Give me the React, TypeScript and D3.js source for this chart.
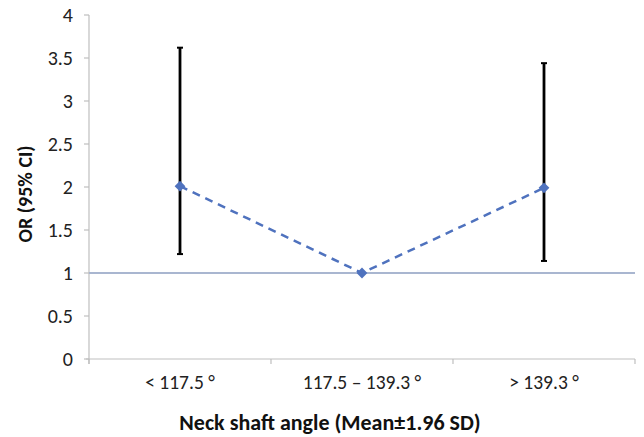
import React from "react";
import * as d3 from "d3";

const width = 644;
const height = 437;
const margin = { top: 15, right: 9, bottom: 78, left: 89 };

const categories = ["< 117.5 °", "117.5 – 139.3 °", "> 139.3 °"];
const orValues = [2.01, 1.0, 1.99];
const ciLow = [1.22, 1.0, 1.14];
const ciHigh = [3.62, 1.0, 3.44];
const yTicks = [0, 0.5, 1, 1.5, 2, 2.5, 3, 3.5, 4];
const refValue = 1;

const font = "Carlito, 'Open Sans', 'Liberation Sans', sans-serif";

const App = () => {
  const innerW = width - margin.left - margin.right;
  const innerH = height - margin.top - margin.bottom;

  const x = d3.scaleBand().domain(categories).range([0, innerW]);
  const y = d3.scaleLinear().domain([0, 4]).range([innerH, 0]);
  const cx = (c: string) => (x(c) ?? 0) + x.bandwidth() / 2;

  const points = categories.map((c, i) => ({
    c,
    v: orValues[i],
    lo: ciLow[i],
    hi: ciHigh[i],
  }));

  const line = d3
    .line<{ c: string; v: number }>()
    .x((d) => cx(d.c))
    .y((d) => y(d.v));

  // square turned 45deg, like the Excel diamond marker
  const diamond = d3.symbol().type(d3.symbolSquare).size(58)();

  // boundaries of the category bands for the x tick marks
  const bounds = [...categories.map((c) => x(c) ?? 0), innerW];

  return (
    <svg
      width={width}
      height={height}
      style={{ position: "absolute", left: 0, top: 0, background: "#fff" }}
    >
      <g transform={`translate(${margin.left},${margin.top})`}>
        {/* y axis */}
        <line x1={0} x2={0} y1={0} y2={innerH + 5} stroke="#BFBFBF" strokeWidth={1.2} />
        {yTicks.map((t) => (
          <g key={t} transform={`translate(0,${y(t)})`}>
            <line x1={-5} x2={0} stroke="#BFBFBF" strokeWidth={1.2} />
            <text
              x={-16}
              dy="0.35em"
              textAnchor="end"
              fontFamily={font}
              fontSize={20}
              fill="#222"
            >
              {t}
            </text>
          </g>
        ))}

        {/* x axis */}
        <line x1={-3} x2={innerW} y1={innerH} y2={innerH} stroke="#BFBFBF" strokeWidth={1.2} />
        {bounds.map((b, i) => (
          <line key={i} x1={b} x2={b} y1={innerH} y2={innerH + 5} stroke="#BFBFBF" strokeWidth={1.2} />
        ))}
        {categories.map((c) => (
          <text
            key={c}
            x={cx(c)}
            y={innerH + 30}
            textAnchor="middle"
            fontFamily={font}
            fontSize={19.5}
            fill="#222"
          >
            {c}
          </text>
        ))}

        {/* reference line at OR = 1 */}
        <line
          x1={0}
          x2={innerW}
          y1={y(refValue)}
          y2={y(refValue)}
          stroke="#A9B6D0"
          strokeWidth={1.8}
        />

        {/* error bars */}
        {points
          .filter((p) => p.hi > p.lo)
          .map((p) => (
            <g key={p.c} stroke="#000">
              <line x1={cx(p.c)} x2={cx(p.c)} y1={y(p.hi)} y2={y(p.lo)} strokeWidth={2.8} />
              <line x1={cx(p.c) - 3} x2={cx(p.c) + 3} y1={y(p.hi)} y2={y(p.hi)} strokeWidth={2} />
              <line x1={cx(p.c) - 3} x2={cx(p.c) + 3} y1={y(p.lo)} y2={y(p.lo)} strokeWidth={2} />
            </g>
          ))}

        {/* dashed series line */}
        <path
          d={line(points) ?? ""}
          fill="none"
          stroke="#4F72BE"
          strokeWidth={2.5}
          strokeDasharray="8,6"
        />
        {points.map((p) => (
          <path
            key={p.c}
            d={diamond ?? ""}
            transform={`translate(${cx(p.c)},${y(p.v)}) rotate(45)`}
            fill="#4F72BE"
          />
        ))}
      </g>

      {/* axis titles */}
      <text
        transform={`translate(32,194) rotate(-90)`}
        textAnchor="middle"
        fontFamily={font}
        fontWeight="bold"
        fontSize={20}
        fill="#111"
      >
        OR (95% CI)
      </text>
      <text
        x={330}
        y={height - 7}
        textAnchor="middle"
        fontFamily={font}
        fontWeight="bold"
        fontSize={22}
        fill="#111"
      >
        Neck shaft angle (Mean±1.96 SD)
      </text>
    </svg>
  );
};

export default App;
